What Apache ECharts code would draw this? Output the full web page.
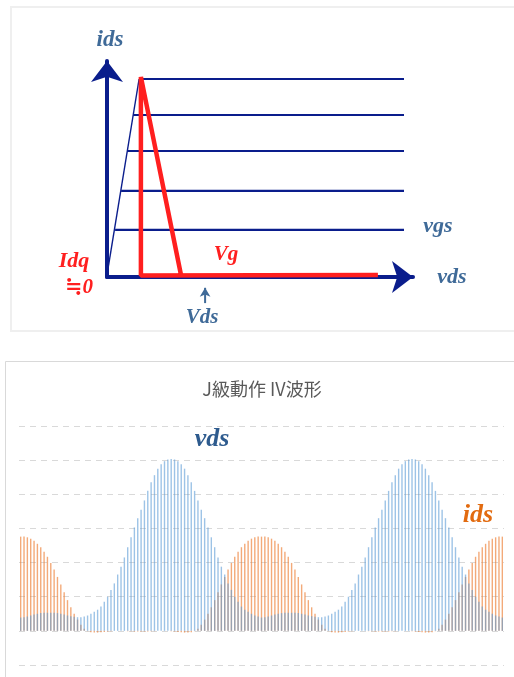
<!DOCTYPE html>
<html>
<head>
<meta charset="utf-8">
<script src="https://cdn.jsdelivr.net/npm/echarts@6/dist/echarts.min.js"></script>
<style>
html,body{margin:0;padding:0;background:#fff;}
#c{width:514px;height:677px;}
</style>
</head>
<body>
<div id="c"></div>
<script>
// ---------- top diagram (schematic IV plane) ----------
var vgsLevels = [1.57, 2.87, 4.20, 5.40, 6.60];
var vgsKneeX  = [0.27, 0.47, 0.67, 0.87, 1.07];
var vgsEndX   = 9.9;
var kneeLineX = [0, 1.07];
var kneeLineY = [0.07, 6.60];
var loadLineX = [2.47, 1.13, 1.13, 9.03];
var loadLineY = [0.05, 6.67, 0.05, 0.07];
var vdsMarkX  = [3.27, 3.27];
var vdsMarkY  = [-0.87, -0.36];

// ---------- bottom chart: J級動作 IV波形 ----------
var angles = [0,5,10,15,20,25,30,35,40,45,50,55,60,65,70,75,80,85,90,95,100,105,110,115,120,125,130,135,140,145,150,155,160,165,170,175,
180,185,190,195,200,205,210,215,220,225,230,235,240,245,250,255,260,265,270,275,280,285,290,295,300,305,310,315,320,325,330,335,340,345,350,355,
360,365,370,375,380,385,390,395,400,405,410,415,420,425,430,435,440,445,450,455,460,465,470,475,480,485,490,495,500,505,510,515,520,525,530,535,
540,545,550,555,560,565,570,575,580,585,590,595,600,605,610,615,620,625,630,635,640,645,650,655,660,665,670,675,680,685,690,695,700,705,710,715,720];

var vds = [0.39,0.40,0.42,0.45,0.48,0.50,0.52,0.53,0.53,0.53,0.53,0.52,0.50,0.48,0.45,0.43,0.41,0.40,0.40,0.42,0.45,0.50,0.56,0.62,0.71,0.85,1.00,1.20,1.39,1.65,1.88,2.15,2.45,2.74,3.03,3.30,
3.55,3.82,4.10,4.35,4.56,4.75,4.88,4.97,5.02,5.03,5.02,4.97,4.88,4.75,4.56,4.35,4.10,3.82,3.55,3.30,3.03,2.74,2.45,2.15,1.88,1.65,1.39,1.20,1.00,0.85,0.71,0.62,0.56,0.50,0.45,0.42,
0.39,0.40,0.42,0.45,0.48,0.50,0.52,0.53,0.53,0.53,0.53,0.52,0.50,0.48,0.45,0.43,0.41,0.40,0.40,0.42,0.45,0.50,0.56,0.62,0.71,0.85,1.00,1.20,1.39,1.65,1.88,2.15,2.45,2.74,3.03,3.30,
3.55,3.82,4.10,4.35,4.56,4.75,4.88,4.97,5.02,5.03,5.02,4.97,4.88,4.75,4.56,4.35,4.10,3.82,3.55,3.30,3.03,2.74,2.45,2.15,1.88,1.65,1.39,1.20,1.00,0.85,0.71,0.62,0.56,0.50,0.45,0.42,0.39];

var ids = [2.76,2.76,2.74,2.70,2.64,2.55,2.45,2.32,2.17,1.99,1.80,1.58,1.36,1.13,0.90,0.69,0.50,0.33,0.18,0.06,-0.01,-0.04,-0.05,-0.05,-0.04,-0.03,-0.02,-0.01,0.00,0.00,0.00,0.00,-0.01,-0.01,-0.02,-0.02,
-0.02,-0.02,-0.02,-0.01,-0.01,0.00,0.00,0.00,0.00,-0.01,-0.02,-0.03,-0.04,-0.05,-0.05,-0.04,-0.01,0.06,0.18,0.33,0.50,0.69,0.90,1.13,1.36,1.58,1.80,1.99,2.17,2.32,2.45,2.55,2.64,2.70,2.74,2.76,
2.76,2.76,2.74,2.70,2.64,2.55,2.45,2.32,2.17,1.99,1.80,1.58,1.36,1.13,0.90,0.69,0.50,0.33,0.18,0.06,-0.01,-0.04,-0.05,-0.05,-0.04,-0.03,-0.02,-0.01,0.00,0.00,0.00,0.00,-0.01,-0.01,-0.02,-0.02,
-0.02,-0.02,-0.02,-0.01,-0.01,0.00,0.00,0.00,0.00,-0.01,-0.02,-0.03,-0.04,-0.05,-0.05,-0.04,-0.01,0.06,0.18,0.33,0.50,0.69,0.90,1.13,1.36,1.58,1.80,1.99,2.17,2.32,2.45,2.55,2.64,2.70,2.74,2.76,2.76];

var yMin = -1, yMax = 6, yStep = 1;

var NAVY = '#0a1d8c';
var RED = '#ff1f1f';
var STEEL = '#3f6a98';
var serif = '"Liberation Serif","DejaVu Serif","Noto Sans CJK JP",serif';

var chart = echarts.init(document.getElementById('c'), null, {renderer: 'canvas'});

var series = [];
vgsLevels.forEach(function (lv, i) {
  series.push({
    type: 'line', xAxisIndex: 0, yAxisIndex: 0, symbol: 'none', silent: true,
    lineStyle: {color: NAVY, width: 2.2},
    data: [[vgsKneeX[i], lv], [vgsEndX, lv]], z: 3
  });
});
series.push({
  type: 'line', xAxisIndex: 0, yAxisIndex: 0, symbol: 'none', silent: true,
  lineStyle: {color: NAVY, width: 1.4},
  data: [[kneeLineX[0], kneeLineY[0]], [kneeLineX[1], kneeLineY[1]]], z: 3
});
series.push({
  type: 'line', xAxisIndex: 0, yAxisIndex: 0, symbol: 'none', silent: true,
  lineStyle: {color: RED, width: 4.5},
  data: loadLineX.map(function (x, i) { return [x, loadLineY[i]]; }), z: 5
});
series.push({
  type: 'line', xAxisIndex: 0, yAxisIndex: 0, silent: true, clip: false,
  lineStyle: {color: STEEL, width: 2},
  itemStyle: {color: STEEL},
  data: [
    {value: [vdsMarkX[0], vdsMarkY[0]], symbol: 'none'},
    {value: [vdsMarkX[1], vdsMarkY[1]], symbol: 'arrow', symbolSize: [8, 9]}
  ], z: 5
});
series.push({
  name: 'ids', type: 'bar', xAxisIndex: 1, yAxisIndex: 1, data: ids,
  barWidth: 1.4, barGap: '-100%',
  itemStyle: {color: 'rgba(237,125,49,0.65)'}, silent: true
});
series.push({
  name: 'vds', type: 'bar', xAxisIndex: 1, yAxisIndex: 1, data: vds,
  barWidth: 1.4, barGap: '-100%',
  itemStyle: {color: 'rgba(91,155,213,0.6)'}, silent: true
});

function txt(x, y, text, color, size, font, weight, style) {
  return {
    type: 'text', x: x, y: y, silent: true, z: 10,
    style: {
      text: text, fill: color, align: 'center', verticalAlign: 'middle',
      font: (style || 'italic') + ' ' + (weight || 'bold') + ' ' + size + 'px ' + (font || serif)
    }
  };
}

var option = {
  animation: false,
  backgroundColor: '#ffffff',
  grid: [
    {left: 107, top: 61, width: 306, height: 216},
    {left: 19, top: 426, width: 485, height: 239}
  ],
  xAxis: [
    {
      type: 'value', gridIndex: 0, min: 0, max: 10.2,
      axisLine: {show: true, onZero: false, symbol: ['none', 'arrow'], symbolSize: [24, 21],
                 lineStyle: {color: NAVY, width: 4}},
      axisTick: {show: false}, axisLabel: {show: false}, splitLine: {show: false}
    },
    {
      type: 'category', gridIndex: 1, data: angles,
      axisLine: {show: false}, axisTick: {show: false}, axisLabel: {show: false}, splitLine: {show: false}
    }
  ],
  yAxis: [
    {
      type: 'value', gridIndex: 0, min: 0, max: 7.2,
      axisLine: {show: true, onZero: false, symbol: ['none', 'arrow'], symbolSize: [24, 21],
                 lineStyle: {color: NAVY, width: 4}},
      axisTick: {show: false}, axisLabel: {show: false}, splitLine: {show: false}
    },
    {
      type: 'value', gridIndex: 1, min: yMin, max: yMax, interval: yStep,
      axisLine: {show: false}, axisTick: {show: false}, axisLabel: {show: false},
      splitLine: {show: true, lineStyle: {color: '#d9d9d9', type: [6, 5], width: 1}}
    }
  ],
  series: series,
  graphic: [
    {type: 'rect', silent: true, z: -1, shape: {x: 11, y: 7, width: 520, height: 324},
     style: {fill: '#ffffff', stroke: '#efefef', lineWidth: 2}},
    {type: 'rect', silent: true, z: -1, shape: {x: 5.5, y: 361.5, width: 520, height: 340},
     style: {fill: '#ffffff', stroke: '#d9d9d9', lineWidth: 1}},
    txt(110, 40, 'ids', STEEL, 23),
    txt(438, 226, 'vgs', STEEL, 22),
    txt(452, 277, 'vds', STEEL, 22),
    txt(202, 318, 'Vds', STEEL, 21),
    txt(226, 255, 'Vg', RED, 21),
    txt(74, 261, 'Idq', RED, 22),
    txt(79, 288, '≒0', RED, 21),
    txt(262, 389, 'J級動作 IV波形', '#595959', 18, '"Noto Sans CJK JP","Noto Sans",sans-serif', 'normal', 'normal'),
    txt(212, 439, 'vds', '#2e5b8e', 26),
    txt(478, 515, 'ids', '#e26b10', 26)
  ]
};
chart.setOption(option);
</script>
</body>
</html>
